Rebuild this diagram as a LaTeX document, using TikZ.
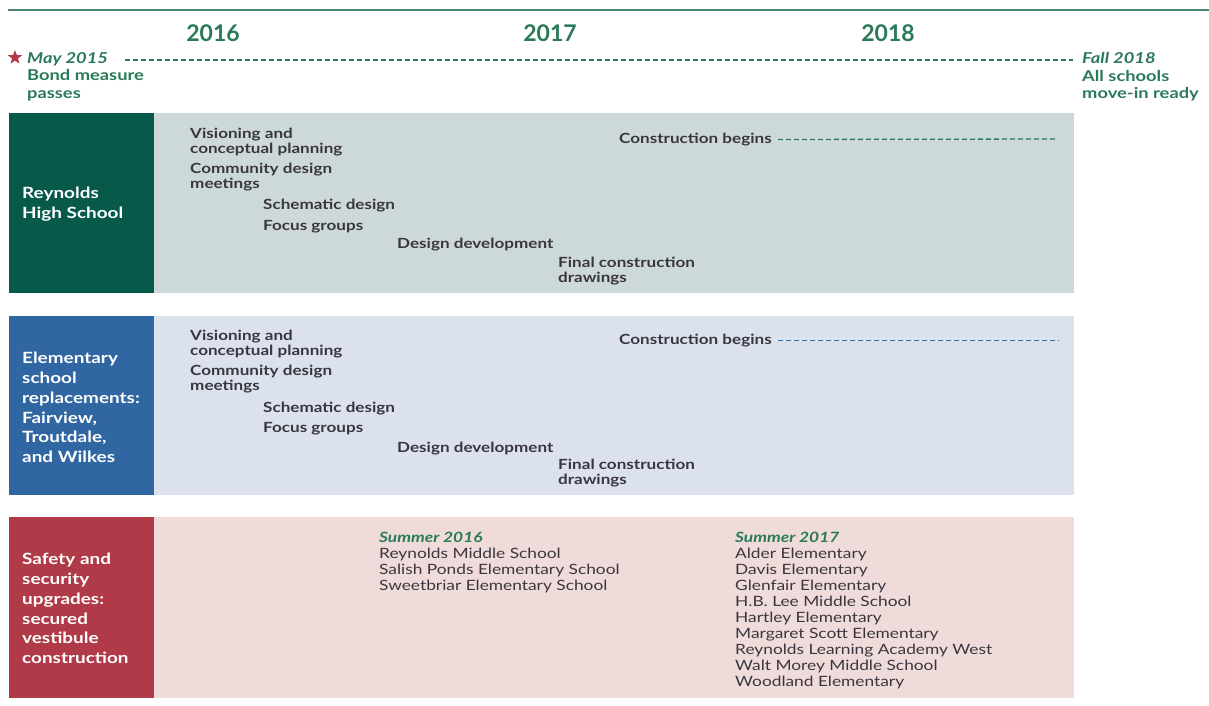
\documentclass[tikz,border=0pt]{standalone}
\usepackage{fontspec}
\setmainfont[FakeStretch=1.22]{Lato}
\newfontfamily\yearfont{Lato}
\usetikzlibrary{shapes.geometric}
\definecolor{gtext}{HTML}{2A7A5A}
\definecolor{gline}{HTML}{4A8672}
\definecolor{hsbox}{HTML}{07594A}
\definecolor{hsbg}{HTML}{CDD9D8}
\definecolor{elbox}{HTML}{3067A2}
\definecolor{elbg}{HTML}{DBE2EE}
\definecolor{sfbox}{HTML}{B03A47}
\definecolor{sfbg}{HTML}{EFDBD9}
\definecolor{startc}{HTML}{B2394A}
\definecolor{itemc}{HTML}{3A3640}
\definecolor{bdash}{HTML}{3A6EA8}
\tikzset{
  yearlbl/.style={font=\yearfont\fontsize{23}{26}\selectfont\bfseries, text=gtext, inner sep=0},
  milestone/.style={font=\fontsize{15}{17.2}\selectfont\bfseries, text=gtext, inner sep=0, align=left},
  rowlbl/.style={font=\fontsize{15.5}{19.8}\selectfont\bfseries, text=white, inner sep=0, align=left, anchor=west},
  item/.style={font=\fontsize{14}{15}\selectfont\bfseries, text=itemc, inner sep=0, align=left, anchor=west},
  school/.style={font=\fontsize{14.2}{16}\selectfont, text=itemc, inner sep=0, align=left, anchor=north west},
  dashln/.style={dash pattern=on 5pt off 3pt, line width=1.3pt},
}
\begin{document}
\begin{tikzpicture}[x=1pt,y=-1pt]
\useasboundingbox (0,0) rectangle (1209,706);
\fill[white] (0,0) rectangle (1209,706);
% top rule
\draw[gline, line width=2pt] (8,10) -- (1209,10);
% years
\node[yearlbl] (y2016) at (213,33) {2016};
\node[yearlbl] (y2017) at (550,33) {2017};
\node[yearlbl] (y2018) at (888,33) {2018};
% start / end milestones
\node[star, star points=5, star point ratio=2.4, fill=startc, inner sep=0, minimum size=15pt] (star) at (15,57.5) {};
\node[milestone, anchor=north west] (start) at (27,52.5) {\textit{May 2015}\\Bond measure\\passes};
\node[milestone, anchor=north west] (finish) at (1082,52.5) {\textit{Fall 2018}\\All schools\\move-in ready};
\coordinate (tl1) at (125,60);
\coordinate (tl2) at (1073,60);
\draw[gtext, dashln] (tl1) -- (tl2);

% ---------- Row 1 ----------
\fill[hsbg] (154,113) rectangle (1074,293);
\node[fill=hsbox, minimum width=145pt, minimum height=180pt, inner sep=0, anchor=north west] (hs) at (9,113) {};
\node[rowlbl] (hslbl) at (22,204.5) {Reynolds\\High School};
\node[item] (hs1) at (190,142.5) {Visioning and\\conceptual planning};
\node[item] (hs2) at (190,177.5) {Community design\\meetings};
\node[item] (hs3) at (263,205.5) {Schematic design};
\node[item] (hs4) at (263,226.5) {Focus groups};
\node[item] (hs5) at (397,244.5) {Design development};
\node[item] (hs6) at (558,271) {Final construction\\drawings};
\node[item] (hs7) at (619,139.5) {Construction begins};
\coordinate (hsend) at (1058,139);
\draw[gtext, dashln] ([xshift=6pt]hs7.east) -- (hsend);

% ---------- Row 2 ----------
\fill[elbg] (154,316) rectangle (1074,495);
\node[fill=elbox, minimum width=145pt, minimum height=179pt, inner sep=0, anchor=north west] (el) at (9,316) {};
\node[rowlbl] (ellbl) at (22,407.5) {Elementary\\school\\replacements:\\Fairview,\\Troutdale,\\and Wilkes};
\node[item] (el1) at (190,344.5) {Visioning and\\conceptual planning};
\node[item] (el2) at (190,379.5) {Community design\\meetings};
\node[item] (el3) at (263,408.5) {Schematic design};
\node[item] (el4) at (263,428.5) {Focus groups};
\node[item] (el5) at (397,448.5) {Design development};
\node[item] (el6) at (558,473) {Final construction\\drawings};
\node[item] (el7) at (619,340.5) {Construction begins};
\coordinate (elend) at (1058,340.5);
\draw[bdash, dashln] ([xshift=6pt]el7.east) -- (elend);

% ---------- Row 3 ----------
\fill[sfbg] (154,517) rectangle (1074,698);
\node[fill=sfbox, minimum width=145pt, minimum height=181pt, inner sep=0, anchor=north west] (sf) at (9,517) {};
\node[rowlbl] (sflbl) at (22,608.5) {Safety and\\security\\upgrades:\\secured\\vestibule\\construction};
\node[school] (s16) at (379,531.5) {{\color{gtext}\itshape\bfseries Summer 2016}\\Reynolds Middle School\\Salish Ponds Elementary School\\Sweetbriar Elementary School};
\node[school] (s17) at (735,531.5) {{\color{gtext}\itshape\bfseries Summer 2017}\\Alder Elementary\\Davis Elementary\\Glenfair Elementary\\H.B. Lee Middle School\\Hartley Elementary\\Margaret Scott Elementary\\Reynolds Learning Academy West\\Walt Morey Middle School\\Woodland Elementary};
\end{tikzpicture}
\end{document}
